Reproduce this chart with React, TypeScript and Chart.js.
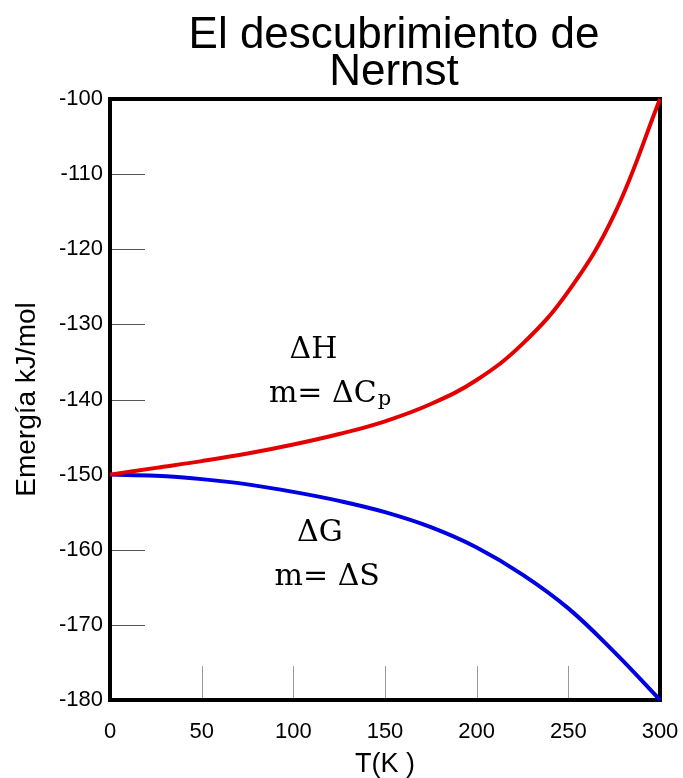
import React, { useEffect, useRef } from "react";
import { Chart, registerables } from "chart.js";

Chart.register(...registerables);

const temps = [0, 25, 50, 75, 100, 125, 150, 175, 200, 225, 250, 275, 300];
const deltaH = [-150, -149.1, -148.2, -147.2, -146.0, -144.6, -142.9, -140.6, -137.4, -132.6, -125.6, -115.4, -100];
const deltaG = [-150, -150.15, -150.6, -151.3, -152.3, -153.5, -155.0, -157.0, -159.7, -163.3, -167.8, -173.6, -180];
const xTicks = [0, 50, 100, 150, 200, 250, 300];
const yTicks = [-180, -170, -160, -150, -140, -130, -120, -110, -100];
const titleLines = ["El descubrimiento de", "Nernst"];
const xTitle = "T(K )";
const yTitle = "Emergía kJ/mol";

// text annotations anchored in data units
const annLabels = ["ΔH", "m= ΔC", "ΔG", "m= ΔS"];
const annSubs = ["", "p", "", ""];
const annX = [111, 120, 114.5, 118.5];
const annY = [-133.4, -139.3, -157.8, -163.6];

const FONT = "'Liberation Sans', Arial, sans-serif";

const titlePlugin = {
  id: "bigTitle",
  afterDraw(chart: any) {
    const { ctx, chartArea } = chart;
    ctx.save();
    ctx.fillStyle = "#000";
    ctx.font = `44px ${FONT}`;
    ctx.textAlign = "center";
    ctx.textBaseline = "alphabetic";
    const cx = (chartArea.left + chartArea.right) / 2 + 9;
    titleLines.forEach((line, i) => {
      ctx.fillText(line, cx, 48 + i * 37);
    });
    ctx.restore();
  },
};

const innerTicks = {
  id: "innerTicks",
  beforeDatasetsDraw(chart: any) {
    const { ctx, chartArea, scales } = chart;
    const { left, right, top, bottom } = chartArea;
    const x = scales.x;
    const y = scales.y;
    ctx.save();
    ctx.lineWidth = 1;
    ctx.strokeStyle = "#555";
    y.ticks.forEach((t: any) => {
      const py = Math.round(y.getPixelForValue(t.value)) + 0.5;
      ctx.beginPath();
      ctx.moveTo(left, py);
      ctx.lineTo(left + 35, py);
      ctx.stroke();
    });
    ctx.strokeStyle = "#999";
    x.ticks.forEach((t: any) => {
      const px = Math.round(x.getPixelForValue(t.value)) + 0.5;
      ctx.beginPath();
      ctx.moveTo(px, bottom);
      ctx.lineTo(px, bottom - 34);
      ctx.stroke();
    });
    ctx.lineWidth = 4;
    ctx.strokeStyle = "#000";
    ctx.strokeRect(left, top, right - left, bottom - top);
    ctx.restore();
  },
};

const annotations = {
  id: "annotations",
  afterDatasetsDraw(chart: any) {
    const { ctx, scales } = chart;
    ctx.save();
    ctx.fillStyle = "#000";
    ctx.textBaseline = "middle";
    ctx.textAlign = "left";
    const mainFont = "30px 'DejaVu Serif'";
    const subFont = "21px 'DejaVu Serif'";
    annLabels.forEach((lab, i) => {
      const cx = scales.x.getPixelForValue(annX[i]);
      const cy = scales.y.getPixelForValue(annY[i]);
      ctx.font = mainFont;
      const w1 = ctx.measureText(lab).width;
      ctx.font = subFont;
      const w2 = annSubs[i] ? ctx.measureText(annSubs[i]).width + 1 : 0;
      const x0 = cx - (w1 + w2) / 2;
      ctx.font = mainFont;
      ctx.fillText(lab, x0, cy);
      if (annSubs[i]) {
        ctx.font = subFont;
        ctx.textBaseline = "alphabetic";
        ctx.fillText(annSubs[i], x0 + w1 + 1, cy + 11);
        ctx.textBaseline = "middle";
      }
    });
    ctx.restore();
  },
};

export default function App() {
  const ref = useRef<HTMLCanvasElement>(null);
  useEffect(() => {
    document.body.style.margin = "0";
    const chart = new Chart(ref.current!, {
      type: "line",
      data: {
        datasets: [
          {
            label: "ΔH",
            data: temps.map((t, i) => ({ x: t, y: deltaH[i] })),
            borderColor: "#e50000",
            borderWidth: 4,
            pointRadius: 0,
            tension: 0.4,
            clip: false as any,
          },
          {
            label: "ΔG",
            data: temps.map((t, i) => ({ x: t, y: deltaG[i] })),
            borderColor: "#0000e0",
            borderWidth: 4,
            pointRadius: 0,
            tension: 0.4,
            clip: false as any,
          },
        ],
      },
      options: {
        animation: false,
        responsive: false,
        layout: { padding: { left: 0, right: 23, top: 99, bottom: 0 } },
        plugins: {
          legend: { display: false },
          tooltip: { enabled: false },
          title: { display: false },
        },
        scales: {
          x: {
            type: "linear",
            min: 0,
            max: 300,
            afterBuildTicks: (s: any) => { s.ticks = xTicks.map((v) => ({ value: v })); },
            afterFit: (s: any) => { s.height = 78; s.paddingLeft = 0; s.paddingRight = 0; },
            grid: { display: false, drawTicks: false },
            border: { display: false },
            ticks: {
              color: "#000",
              padding: 19,
              maxRotation: 0,
              font: { family: FONT, size: 22 },
            },
            title: {
              display: true,
              text: xTitle,
              color: "#000",
              font: { family: FONT, size: 27, lineHeight: 1.0 },
              padding: { top: 0, bottom: 0 },
            },
          },
          y: {
            type: "linear",
            min: -180,
            max: -100,
            afterBuildTicks: (s: any) => { s.ticks = yTicks.map((v) => ({ value: v })); },
            afterFit: (s: any) => { s.width = 110; s.paddingTop = 0; s.paddingBottom = 0; },
            grid: { display: false, drawTicks: false },
            border: { display: false },
            ticks: {
              color: "#000",
              padding: 7,
              font: { family: FONT, size: 22 },
            },
            title: {
              display: true,
              text: yTitle,
              color: "#000",
              font: { family: FONT, size: 28 },
              padding: { top: 10, bottom: 0 },
            },
          },
        },
      },
      plugins: [innerTicks, annotations, titlePlugin],
    });
    return () => chart.destroy();
  }, []);
  return (
    <div style={{ width: 683, height: 778 }}>
      <canvas ref={ref} width={683} height={778} />
    </div>
  );
}
